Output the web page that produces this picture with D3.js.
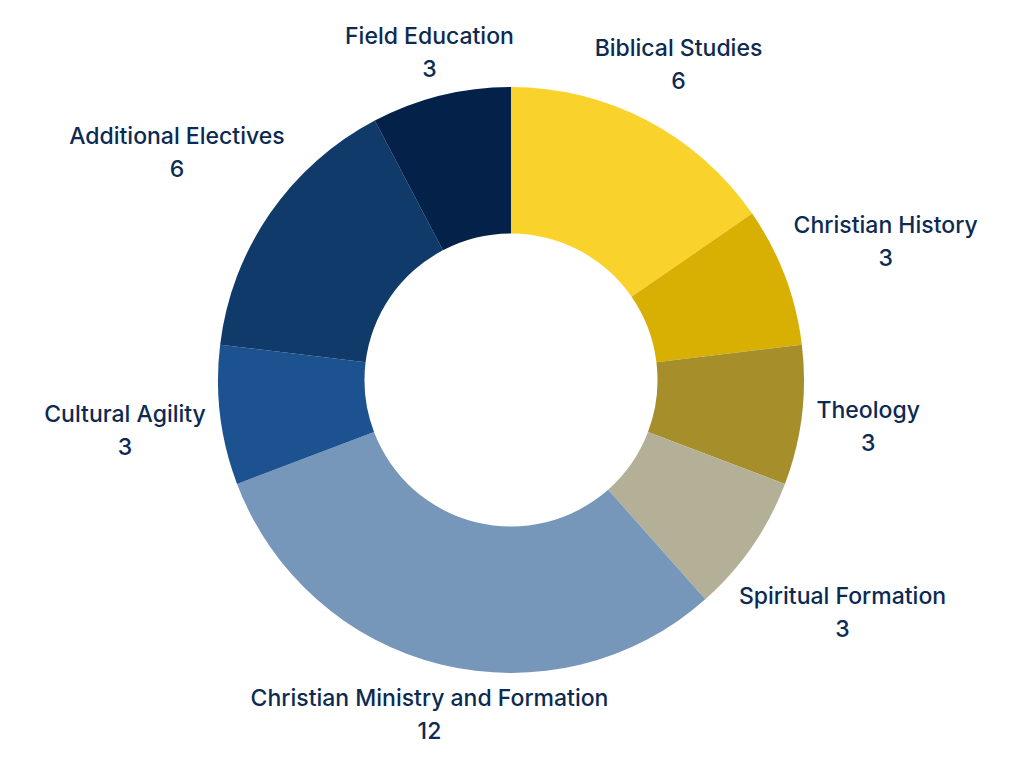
<!DOCTYPE html>
<html>
<head>
<meta charset="utf-8">
<script src="https://cdn.jsdelivr.net/npm/d3@7"></script>
<style>
  html, body { margin: 0; padding: 0; background: #ffffff; }
  svg { display: block; }
</style>
</head>
<body>
<svg id="chart" width="1024" height="768"></svg>
<script>
const categories = [
  "Biblical Studies",
  "Christian History",
  "Theology",
  "Spiritual Formation",
  "Christian Ministry and Formation",
  "Cultural Agility",
  "Additional Electives",
  "Field Education"
];
const credits = [6, 3, 3, 3, 12, 3, 6, 3];
const sliceColors = [
  "#f9d32b", "#d8b004", "#a68e2a", "#b3b097",
  "#7797ba", "#1c528f", "#0f3a6a", "#032149"
];

const width = 1024, height = 768;
const cx = 511, cy = 380;
const outerR = 293, innerR = 146.5;
const fontSize = 23, lineGap = 33, capH = 16.5, labelGap = 13, labelShiftY = 3;
const textColor = "#0c2a52";

const svg = d3.select("#chart");
const data = categories.map((c, i) => ({ name: c, value: credits[i], color: sliceColors[i] }));

const pie = d3.pie().value(d => d.value).sort(null);
const arcs = pie(data);
const arc = d3.arc().innerRadius(innerR).outerRadius(outerR);

const g = svg.append("g").attr("transform", `translate(${cx},${cy})`);

g.selectAll("path.slice")
  .data(arcs)
  .join("path")
  .attr("class", "slice")
  .attr("d", arc)
  .attr("fill", d => d.data.color);

// labels
const labels = g.selectAll("g.label")
  .data(arcs)
  .join("g")
  .attr("class", "label")
  .attr("font-family", "Inter, 'Noto Sans', sans-serif")
  .attr("font-size", fontSize)
  .attr("font-weight", 500)
  .attr("fill", textColor)
  .attr("text-anchor", "middle");

labels.append("text").attr("class", "l1").attr("x", 0).attr("y", 0).text(d => d.data.name);
labels.append("text").attr("class", "l2").attr("x", 0).attr("y", lineGap).text(d => d.data.value);

function minDist(bx, by, hw, hh) {
  const nx = Math.max(bx - hw, Math.min(0, bx + hw));
  const ny = Math.max(by - hh, Math.min(0, by + hh));
  return Math.hypot(nx, ny);
}

labels.each(function(d) {
  const sel = d3.select(this);
  const w1 = sel.select(".l1").node().getComputedTextLength();
  const w2 = sel.select(".l2").node().getComputedTextLength();
  const hw = Math.max(w1, w2) / 2;
  const hh = (lineGap + capH) / 2;
  const boxOffY = (lineGap - capH) / 2; // box center relative to baseline 1
  const mid = (d.startAngle + d.endAngle) / 2;
  const ux = Math.sin(mid), uy = -Math.cos(mid);
  const target = outerR + labelGap;
  let lo = 0, hi = 800;
  for (let k = 0; k < 60; k++) {
    const t = (lo + hi) / 2;
    if (minDist(t * ux, t * uy, hw, hh) < target) lo = t; else hi = t;
  }
  const t = hi;
  sel.attr("transform", `translate(${t * ux},${t * uy - boxOffY + labelShiftY})`);
});
</script>
</body>
</html>
